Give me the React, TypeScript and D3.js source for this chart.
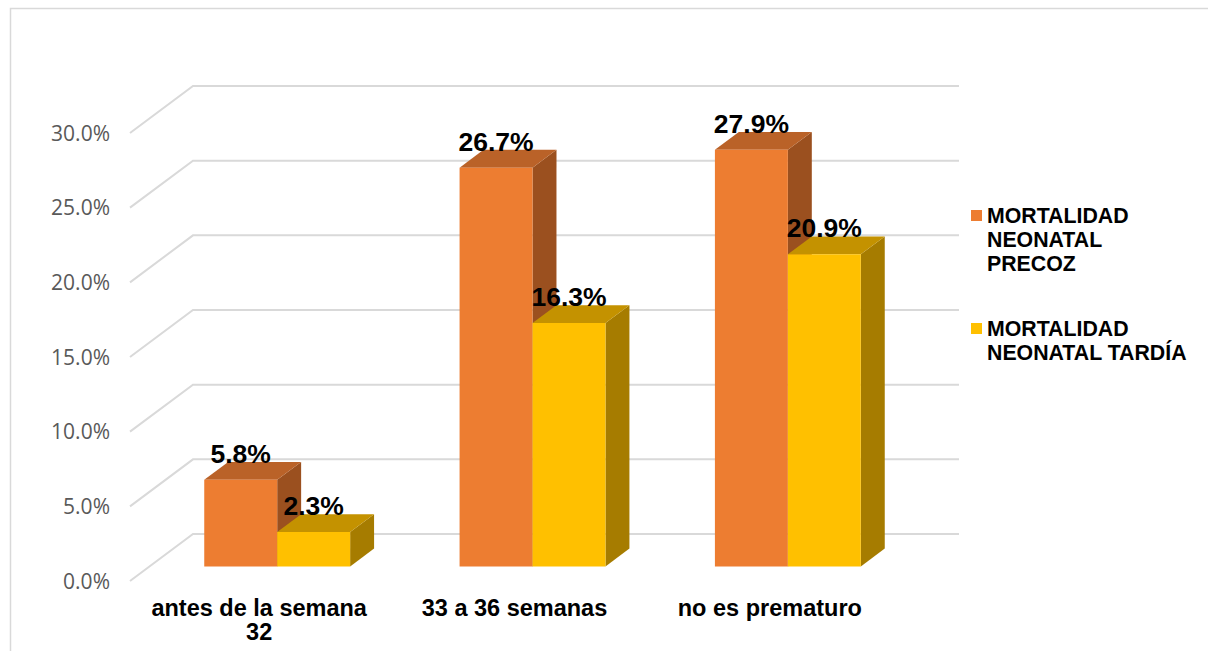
import React from "react";
import * as d3 from "d3";

const categories: string[][] = [["antes de la semana", "32"], ["33 a 36 semanas"], ["no es prematuro"]];
const seriesNames: string[][] = [["MORTALIDAD", "NEONATAL", "PRECOZ"], ["MORTALIDAD", "NEONATAL TARDÍA"]];
const precoz: number[] = [0.058, 0.267, 0.279];
const tardia: number[] = [0.023, 0.163, 0.209];
const ticks: number[] = [0, 0.05, 0.1, 0.15, 0.2, 0.25, 0.3];

const W = 1208;
const H = 651;
const FRONT_X0 = 130;
const FRONT_X1 = 896;
const FLOOR_Y = 581;
const DEPTH_DX = 63;
const DEPTH_DY = 47;
const BACK_X1 = 959;
const Z0 = 0.31;
const Z1 = 0.69;

const colors = [
  { front: "#ED7D31", top: "#BA6228", side: "#9B501F" },
  { front: "#FFC000", top: "#C49200", side: "#A67C00" },
];

export default function App() {
  const x = d3.scaleBand<number>().domain([0, 1, 2]).range([FRONT_X0, FRONT_X1]).paddingInner(0).paddingOuter(0);
  const xs = d3.scaleBand<number>().domain([0, 1]).range([0, x.bandwidth()]).paddingInner(0).paddingOuter(0.75);
  const y = d3.scaleLinear().domain([0, 0.3]).range([0, 448]);
  const P = (px: number, v: number, z: number): [number, number] => [px + z * DEPTH_DX, FLOOR_Y - z * DEPTH_DY - y(v)];
  const poly = (pts: [number, number][]) => pts.map((p) => p.join(",")).join(" ");
  const fmt = d3.format(".1%");
  const series = [precoz, tardia];

  const bars: React.ReactNode[] = [];
  const labels: React.ReactNode[] = [];
  categories.forEach((_, i) => {
    series.forEach((vals, j) => {
      const v = vals[i];
      const x0 = (x(i) as number) + (xs(j) as number);
      const x1 = x0 + xs.bandwidth();
      const c = colors[j];
      const fTL = P(x0, v, Z0), fTR = P(x1, v, Z0), fBR = P(x1, 0, Z0), fBL = P(x0, 0, Z0);
      const bTL = P(x0, v, Z1), bTR = P(x1, v, Z1), bBR = P(x1, 0, Z1);
      bars.push(
        <g key={`b${i}-${j}`}>
          <polygon points={poly([fTR, bTR, bBR, fBR])} fill={c.side} />
          <polygon points={poly([fTL, fTR, bTR, bTL])} fill={c.top} />
          <polygon points={poly([fTL, fTR, fBR, fBL])} fill={c.front} />
        </g>
      );
      labels.push(
        <text key={`l${i}-${j}`} x={(fTL[0] + fTR[0]) / 2} y={bTL[1] + 1} textAnchor="middle"
          fontFamily="Liberation Sans, Arial, sans-serif" fontWeight="bold" fontSize={26.5} fill="#000">
          {fmt(v)}
        </text>
      );
    });
  });

  return (
    <svg width={W} height={H} style={{ position: "absolute", left: 0, top: 0, background: "#fff" }}>
      <rect x={10.5} y={8.5} width={W} height={H} fill="none" stroke="#d9d9d9" strokeWidth={1.5} />
      {ticks.map((t) => {
        const f = P(FRONT_X0, t, 0);
        const b = P(FRONT_X0, t, 1);
        return (
          <g key={`g${t}`}>
            <polyline points={poly([f, b, [BACK_X1, b[1]]])} fill="none" stroke="#d9d9d9" strokeWidth={2} />
            <text x={110} y={f[1]} dy="0.36em" textAnchor="end" fontFamily="Open Sans, sans-serif" fontSize={21} fill="#595959">
              {fmt(t)}
            </text>
          </g>
        );
      })}
      {bars}
      {labels}
      {categories.map((lines, i) => (
        <text key={`c${i}`} textAnchor="middle" fontFamily="Liberation Sans, Arial, sans-serif" fontWeight="bold" fontSize={23.5} fill="#000">
          {lines.map((ln, k) => (
            <tspan key={k} x={(x(i) as number) + x.bandwidth() / 2 + 1.5} y={615.5 + k * 24}>{ln}</tspan>
          ))}
        </text>
      ))}
      {seriesNames.map((lines, j) => {
        const top = j === 0 ? 210 : 323;
        return (
          <g key={`lg${j}`}>
            <rect x={971} y={top} width={11} height={11} fill={colors[j].front} />
            <text fontFamily="Liberation Sans, Arial, sans-serif" fontWeight="bold" fontSize={21.3} fill="#000">
              {lines.map((ln, k) => (
                <tspan key={k} x={987} y={top + 12.5 + k * 24.3}>{ln}</tspan>
              ))}
            </text>
          </g>
        );
      })}
    </svg>
  );
}
